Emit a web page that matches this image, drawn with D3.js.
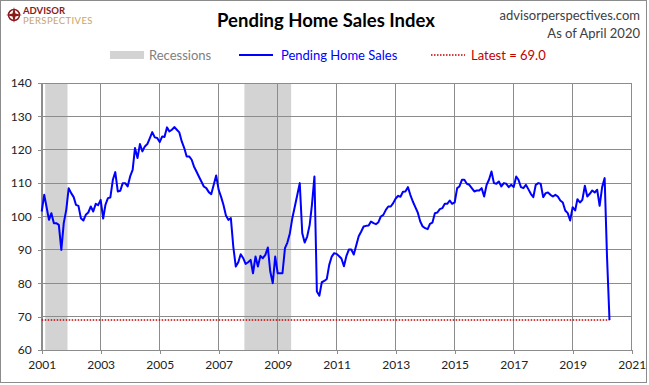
<!DOCTYPE html>
<html>
<head>
<meta charset="UTF-8">
<title>Pending Home Sales Index</title>
<script src="https://d3js.org/d3.v7.min.js"></script>
<style>
  body { margin: 0; background: #fff; }
  svg text { font-family: Lato, "Open Sans", sans-serif; }
  .grid line, .axis path, .axis line { stroke: #8c8c8c; stroke-width: 1px; shape-rendering: crispEdges; }
  .axis text { font-size: 12px; fill: #222; }
</style>
</head>
<body>
<div id="chart"></div>
<script>
// monthly index, Jan 2001 .. Apr 2020
const startMonth = "2001-01";
const pendingSales = [
  101.5, 106.5, 103, 99, 101, 98, 98, 97.5, 90, 98, 102, 108.5,          // 2001
  107, 105.8, 103.5, 103.2, 99.5, 98.8, 100.5, 101.2, 103, 101.5, 103.8, 103.4, // 2002
  105, 99.4, 103.5, 105.5, 105.7, 111, 113.3, 107.5, 107.7, 110, 110, 109, // 2003
  112, 114, 120.5, 117.5, 121.7, 119.5, 121, 121.7, 123.5, 125.3, 123.7, 123.5, // 2004
  122.3, 124, 123.8, 126.7, 125.5, 126, 126.8, 126, 125.2, 122.5, 120.5, 118, // 2005
  118, 117, 115, 113.5, 112, 110.5, 109, 108.5, 107.3, 106.7, 109.5, 112.3, // 2006
  108, 105.8, 103.5, 100.3, 99, 99.5, 91, 85, 86.3, 88.7, 87.5, 85.8,     // 2007
  86.3, 87, 83, 88, 85, 88.2, 87.5, 88.5, 90.7, 83.5, 80, 88,             // 2008
  83, 83, 83, 90.5, 92.2, 95, 99.5, 103, 106.5, 110, 95, 92.2,            // 2009
  94, 97.5, 103.5, 112, 77.5, 76.3, 80.3, 80.7, 81.3, 85.5, 88, 89,       // 2010
  88.8, 88.1, 87.4, 85.1, 88.1, 90.1, 90.1, 88.6, 91.4, 94.1, 95.5, 97,   // 2011
  97.2, 97.3, 98.5, 98, 97.7, 98.3, 100, 100.5, 102, 103, 103, 104,       // 2012
  105.4, 106.2, 105.9, 107.4, 107.5, 108.8, 106.5, 104.5, 102.8, 101.2, 98.5, 97, // 2013
  96.5, 96.2, 97.8, 98.2, 101, 101.2, 102.2, 102.5, 103.8, 103.8, 104.8, 103.8, // 2014
  104.2, 108.5, 109, 111, 111, 109.8, 109.5, 108.5, 107.5, 107.8, 107.8, 108.5, // 2015
  106, 109.5, 111, 113.5, 110, 109.8, 110.5, 109, 110, 109.8, 108.8, 109.5, // 2016
  108.8, 112, 111, 108.8, 108.5, 109.5, 108.2, 106.8, 105.8, 109.5, 110, 109.8, // 2017
  105.8, 107, 107.2, 106.5, 106, 106.5, 106, 104.8, 104.2, 101.8, 101, 98.8, // 2018
  102.8, 101.8, 105.2, 104.2, 105, 109.2, 106, 106.8, 107.8, 107.2, 108, 103.2, // 2019
  108.8, 111.5, 88.2, 69.0                                                // 2020
];
const recessions = [["2001-03", "2001-11"], ["2007-12", "2009-06"]];
const yTicks = [60, 70, 80, 90, 100, 110, 120, 130, 140];
const xTickYears = [2001, 2003, 2005, 2007, 2009, 2011, 2013, 2015, 2017, 2019, 2021];
const latestValue = 69.0;

const width = 649, height = 385;
const plot = {left: 41.7, right: 631.7, top: 83, bottom: 350};

const parseMonth = d3.timeParse("%Y-%m");
const start = parseMonth(startMonth);
const data = pendingSales.map((v, i) => ({date: d3.timeMonth.offset(start, i), value: v}));

const x = d3.scaleTime()
    .domain([new Date(2001, 0, 1), new Date(2021, 0, 1)])
    .range([plot.left, plot.right]);
const y = d3.scaleLinear()
    .domain([60, 140])
    .range([plot.bottom, plot.top]);

const svg = d3.select("#chart").append("svg")
    .attr("width", width)
    .attr("height", height);

svg.append("rect")
    .attr("x", 0.5).attr("y", 0.5)
    .attr("width", width - 3).attr("height", height - 3)
    .attr("fill", "#fff")
    .attr("stroke", "#8c8c8c");

// recession bars (half a month either side)
const halfMonth = (x(new Date(2001, 1, 1)) - x(new Date(2001, 0, 1))) / 2;
svg.append("g").selectAll("rect")
    .data(recessions)
    .join("rect")
    .attr("x", d => x(parseMonth(d[0])) - halfMonth)
    .attr("width", d => x(parseMonth(d[1])) - x(parseMonth(d[0])) + 2 * halfMonth)
    .attr("y", plot.top)
    .attr("height", plot.bottom - plot.top)
    .attr("fill", "#d3d3d3");

// gridlines
const grid = svg.append("g").attr("class", "grid");
grid.selectAll(".h")
    .data(yTicks)
    .join("line")
    .attr("x1", plot.left).attr("x2", plot.right)
    .attr("y1", d => y(d)).attr("y2", d => y(d));
grid.selectAll(".v")
    .data(xTickYears)
    .join("line")
    .attr("x1", d => x(new Date(d, 0, 1))).attr("x2", d => x(new Date(d, 0, 1)))
    .attr("y1", plot.top).attr("y2", plot.bottom);

// axes
svg.append("g")
    .attr("class", "axis")
    .attr("transform", `translate(${plot.left},0)`)
    .call(d3.axisLeft(y).tickValues(yTicks).tickSize(4).tickPadding(6));
svg.append("g")
    .attr("class", "axis")
    .attr("transform", `translate(0,${plot.bottom})`)
    .call(d3.axisBottom(x)
        .tickValues(xTickYears.map(yr => new Date(yr, 0, 1)))
        .tickFormat(d3.timeFormat("%Y"))
        .tickSize(4).tickPadding(6));

// latest value line
const last = data[data.length - 1];
svg.append("line")
    .attr("x1", x(data[0].date)).attr("x2", x(last.date))
    .attr("y1", y(latestValue)).attr("y2", y(latestValue))
    .attr("stroke", "#c00000")
    .attr("stroke-width", 1.5)
    .attr("stroke-dasharray", "1.5,1.5");

// series
svg.append("path")
    .datum(data)
    .attr("fill", "none")
    .attr("stroke", "#0000ff")
    .attr("stroke-width", 2)
    .attr("stroke-linejoin", "round")
    .attr("d", d3.line().x(d => x(d.date)).y(d => y(d.value)));

// title and header
svg.append("text")
    .attr("x", 326).attr("y", 27)
    .attr("text-anchor", "middle")
    .attr("font-size", 18.5).attr("font-weight", "bold")
    .attr("fill", "#000")
    .text("Pending Home Sales Index");
svg.append("text")
    .attr("x", 640).attr("y", 20)
    .attr("text-anchor", "end")
    .attr("font-size", 13).attr("fill", "#404040")
    .text("advisorperspectives.com");
svg.append("text")
    .attr("x", 640).attr("y", 38)
    .attr("text-anchor", "end")
    .attr("font-size", 13).attr("fill", "#404040")
    .text("As of April 2020");

// logo
const logo = svg.append("g").attr("transform", "translate(14,15)");
logo.append("circle").attr("r", 5.5).attr("fill", "none").attr("stroke", "#8b1a1a").attr("stroke-width", 1.5);
logo.append("path").attr("d", "M0,-8 L1.5,-1.5 L8,0 L1.5,1.5 L0,8 L-1.5,1.5 L-8,0 L-1.5,-1.5Z").attr("fill", "#8b1a1a");
svg.append("text")
    .attr("x", 23).attr("y", 13.5)
    .attr("font-size", 9.5).attr("font-weight", "bold").attr("fill", "#8b1a1a")
    .text("ADVISOR");
svg.append("text")
    .attr("x", 23).attr("y", 24)
    .attr("font-size", 9.5).attr("fill", "#c8a464")
    .attr("letter-spacing", 0.4)
    .text("PERSPECTIVES");

// legend
const legendY = 55;
svg.append("rect")
    .attr("x", 110).attr("y", legendY - 4)
    .attr("width", 34).attr("height", 8)
    .attr("fill", "#d3d3d3");
svg.append("text")
    .attr("x", 149).attr("y", legendY + 4.5)
    .attr("font-size", 13).attr("fill", "#808080")
    .text("Recessions");
svg.append("line")
    .attr("x1", 239).attr("x2", 273)
    .attr("y1", legendY).attr("y2", legendY)
    .attr("stroke", "#0000ff").attr("stroke-width", 2);
svg.append("text")
    .attr("x", 281).attr("y", legendY + 4.5)
    .attr("font-size", 13).attr("fill", "#0000ff")
    .text("Pending Home Sales");
svg.append("line")
    .attr("x1", 431).attr("x2", 465)
    .attr("y1", legendY).attr("y2", legendY)
    .attr("stroke", "#c00000").attr("stroke-width", 1.5)
    .attr("stroke-dasharray", "1.5,1.5");
svg.append("text")
    .attr("x", 471).attr("y", legendY + 4.5)
    .attr("font-size", 13).attr("fill", "#c00000")
    .text("Latest = 69.0");
</script>
</body>
</html>
